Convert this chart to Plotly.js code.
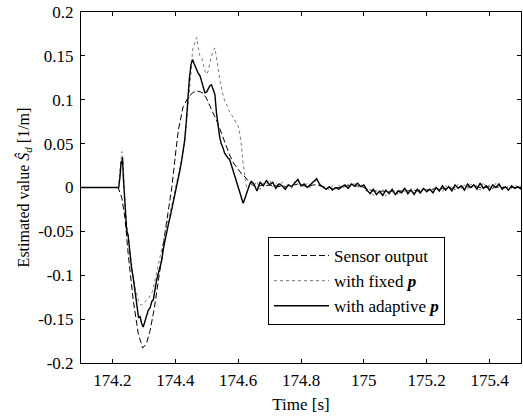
<!DOCTYPE html>
<html>
<head>
<meta charset="utf-8">
<script src="https://cdn.plot.ly/plotly-3.0.1.min.js"></script>
<style>html,body{margin:0;padding:0;background:#fff;}#chart{width:523px;height:419px;}</style>
</head>
<body>
<div id="chart"></div>
<script>
// ---- data ----
var sensorTime = [174.100,174.218,174.230,174.240,174.250,174.266,174.282,174.296,174.308,174.320,174.333,174.346,174.357,174.367,174.378,174.389,174.400,174.410,174.425,174.440,174.455,174.468,174.480,174.490,174.500,174.510,174.520,174.531,174.545,174.560,174.573,174.585,174.600,174.612,174.622,174.635,174.645];
var sensorOutput = [0,0,-0.012,-0.035,-0.075,-0.128,-0.166,-0.183,-0.178,-0.163,-0.138,-0.109,-0.080,-0.052,-0.028,0,0.036,0.066,0.092,0.102,0.108,0.110,0.109,0.107,0.101,0.092,0.085,0.077,0.063,0.048,0.037,0.028,0.020,0.015,0.012,0.006,0.003];

var adaptiveTime = [174.100,174.220,174.224,174.228,174.230,174.232,174.235,174.240,174.245,174.250,174.255,174.261,174.267,174.272,174.278,174.283,174.288,174.293,174.298,174.303,174.308,174.314,174.320,174.325,174.330,174.336,174.341,174.346,174.351,174.357,174.362,174.367,174.373,174.378,174.384,174.389,174.395,174.400,174.404,174.410,174.415,174.420,174.425,174.430,174.435,174.440,174.445,174.450,174.455,174.460,174.466,174.472,174.479,174.485,174.490,174.494,174.500,174.505,174.510,174.515,174.520,174.526,174.531,174.536,174.541,174.546,174.551,174.557,174.562,174.567,174.573,174.578,174.584,174.590,174.595,174.600,174.606,174.611,174.616,174.622,174.627,174.632,174.637,174.642];
var adaptiveP = [0,0,0.012,0.030,0.027,0.034,0.010,-0.020,-0.048,-0.055,-0.075,-0.092,-0.105,-0.117,-0.132,-0.148,-0.147,-0.155,-0.159,-0.152,-0.146,-0.140,-0.137,-0.130,-0.128,-0.112,-0.105,-0.098,-0.090,-0.083,-0.070,-0.060,-0.052,-0.042,-0.033,-0.025,-0.012,-0.004,0.002,0.012,0.020,0.030,0.042,0.054,0.075,0.104,0.125,0.140,0.146,0.141,0.135,0.131,0.127,0.118,0.112,0.108,0.109,0.112,0.116,0.117,0.112,0.106,0.085,0.068,0.058,0.050,0.046,0.039,0.036,0.034,0.032,0.026,0.020,0.013,0.006,0.002,-0.006,-0.012,-0.018,-0.012,-0.006,-0.003,0.004,0.007];

var fixedTime = [174.100,174.220,174.224,174.227,174.230,174.233,174.236,174.240,174.245,174.250,174.256,174.261,174.267,174.272,174.278,174.283,174.288,174.293,174.298,174.304,174.310,174.316,174.322,174.328,174.334,174.340,174.346,174.351,174.357,174.362,174.367,174.372,174.377,174.383,174.389,174.395,174.400,174.405,174.410,174.415,174.420,174.425,174.430,174.435,174.440,174.445,174.450,174.455,174.460,174.465,174.468,174.472,174.478,174.484,174.490,174.495,174.500,174.505,174.510,174.515,174.520,174.526,174.531,174.537,174.542,174.547,174.553,174.558,174.563,174.569,174.574,174.580,174.585,174.590,174.595,174.600,174.605,174.611,174.615,174.619,174.623,174.627,174.632,174.637,174.642];
var fixedP = [0,0,0.020,0.035,0.041,0.035,0.008,-0.015,-0.040,-0.052,-0.075,-0.088,-0.100,-0.115,-0.122,-0.130,-0.133,-0.134,-0.132,-0.130,-0.128,-0.126,-0.122,-0.118,-0.108,-0.098,-0.088,-0.079,-0.068,-0.058,-0.050,-0.043,-0.037,-0.030,-0.020,-0.010,-0.003,0.004,0.012,0.020,0.030,0.040,0.052,0.070,0.092,0.108,0.130,0.157,0.162,0.166,0.171,0.162,0.150,0.148,0.140,0.132,0.129,0.133,0.142,0.150,0.156,0.159,0.150,0.135,0.122,0.112,0.104,0.098,0.095,0.089,0.086,0.082,0.079,0.077,0.074,0.070,0.062,0.047,0.030,0.016,0.008,0.001,-0.002,0.003,0.006];

// settled part, 174.65 ... 175.50 every 0.01 s
var tailTime = [174.65,174.66,174.67,174.68,174.69,174.70,174.71,174.72,174.73,174.74,174.75,174.76,174.77,174.78,174.79,174.80,174.81,174.82,174.83,174.84,174.85,174.86,174.87,174.88,174.89,174.90,174.91,174.92,174.93,174.94,174.95,174.96,174.97,174.98,174.99,175.00,175.01,175.02,175.03,175.04,175.05,175.06,175.07,175.08,175.09,175.10,175.11,175.12,175.13,175.14,175.15,175.16,175.17,175.18,175.19,175.20,175.21,175.22,175.23,175.24,175.25,175.26,175.27,175.28,175.29,175.30,175.31,175.32,175.33,175.34,175.35,175.36,175.37,175.38,175.39,175.40,175.41,175.42,175.43,175.44,175.45,175.46,175.47,175.48,175.49,175.50];
var sensorTail = [0.002,0.001,0.002,0.003,0.002,0.003,0.002,0.002,0.001,0.002,0.001,0.002,0.003,0.003,0.004,0.002,0.002,0.001,0.002,0.003,0.003,0.002,0.001,0.000,0.000,-0.001,0.000,0.000,0.001,0.001,0.002,0.001,0.001,0.002,0.001,0.000,-0.002,-0.003,-0.004,-0.004,-0.005,-0.004,-0.005,-0.005,-0.004,-0.005,-0.004,-0.004,-0.003,-0.004,-0.003,-0.003,-0.004,-0.003,-0.002,-0.003,-0.002,-0.002,-0.001,-0.002,-0.001,-0.001,0.000,-0.001,0.000,0.000,0.001,0.000,0.001,0.000,0.001,0.001,0.000,0.001,0.000,0.001,0.000,0.001,0.000,0.000,0.000,0.000,0.000,0.000,0.000,0.000];
var adaptiveTail = [0.004,-0.004,0.006,0.002,0.008,0.003,0.006,-0.001,0.004,0.002,-0.002,0.003,0.001,0.005,0.009,0.002,0.004,0.000,0.003,0.006,0.010,0.003,0.000,-0.002,0.001,-0.003,0.000,-0.002,0.001,0.003,-0.001,0.004,0.002,0.005,0.001,0.003,-0.003,-0.007,-0.002,-0.008,-0.004,-0.009,-0.003,-0.007,-0.002,-0.008,-0.004,-0.006,-0.001,-0.007,-0.003,-0.008,-0.002,-0.006,-0.001,-0.005,-0.002,-0.006,0.000,-0.004,0.002,-0.003,0.001,-0.004,0.003,-0.001,0.002,-0.003,0.004,0.000,0.003,-0.002,0.005,-0.001,0.002,-0.003,0.003,0.000,0.004,-0.002,0.001,-0.003,0.002,-0.001,0.001,-0.002];
var fixedTail = [0.002,0.007,-0.002,0.005,0.004,0.009,0.001,0.005,0.002,0.006,0.000,0.004,-0.001,0.007,0.010,0.004,0.001,0.005,-0.001,0.004,0.008,0.005,-0.001,0.002,-0.003,0.002,-0.002,0.003,-0.001,0.001,0.004,0.001,0.006,-0.001,0.004,0.000,-0.005,-0.002,-0.009,-0.003,-0.007,-0.002,-0.010,-0.004,-0.006,-0.003,-0.009,-0.002,-0.005,-0.008,-0.001,-0.006,-0.004,-0.007,0.000,-0.004,-0.003,-0.005,0.001,-0.002,-0.005,0.002,-0.002,0.001,-0.003,0.004,-0.001,0.003,-0.002,0.004,0.001,0.002,-0.003,0.006,0.000,0.003,-0.002,0.005,0.001,0.003,-0.002,0.002,-0.001,0.003,0.000,0.002];

var seriesNames = ['Sensor output', 'with fixed <b><i>p</i></b>', 'with adaptive <b><i>p</i></b>'];
var xTickVals = [174.2,174.4,174.6,174.8,175,175.2,175.4];
var xTickText = ['174.2','174.4','174.6','174.8','175','175.2','175.4'];
var yTickVals = [0.2,0.15,0.1,0.05,0,-0.05,-0.1,-0.15,-0.2];
var yTickText = ['0.2','0.15','0.1','0.05','0','-0.05','-0.1','-0.15','-0.2'];

var serif = '"Liberation Serif", serif';

var traces = [
  {x: sensorTime.concat(tailTime), y: sensorOutput.concat(sensorTail), name: seriesNames[0], legendgroup: 'a',
   mode: 'lines', line: {color: '#000', width: 1, dash: '6px,3px'}},
  {x: fixedTime.concat(tailTime), y: fixedP.concat(fixedTail), name: seriesNames[1], legendgroup: 'b',
   mode: 'lines', line: {color: '#777', width: 1, dash: 'dot'}},
  {x: adaptiveTime.concat(tailTime), y: adaptiveP.concat(adaptiveTail), name: seriesNames[2], legendgroup: 'c',
   mode: 'lines', line: {color: '#000', width: 1.4}}
];

var axisCommon = {
  showline: true, linecolor: '#000', linewidth: 1, mirror: 'ticks',
  ticks: 'inside', ticklen: 4, tickcolor: '#000', tickwidth: 1,
  showgrid: false, zeroline: false,
  tickfont: {family: serif, size: 17, color: '#000'}
};

var layout = {
  width: 523, height: 419,
  margin: {l: 81, r: 2, t: 12, b: 56},
  paper_bgcolor: '#fff', plot_bgcolor: '#fff',
  font: {family: serif, color: '#000'},
  showlegend: true,
  xaxis: Object.assign({}, axisCommon, {
    range: [174.1, 175.5], tickmode: 'array', tickvals: xTickVals, ticktext: xTickText,
    ticklabelstandoff: 2,
    title: {text: 'Time [s]', font: {family: serif, size: 17, color: '#000'}, standoff: 8}
  }),
  yaxis: Object.assign({}, axisCommon, {
    range: [-0.2, 0.2], tickmode: 'array', tickvals: yTickVals, ticktext: yTickText,
    ticklabelstandoff: 3,
    title: {text: 'Estimated value <i>Ŝ</i><sub><i>d</i></sub> [1/m]', font: {family: serif, size: 16, color: '#000'}, standoff: 4}
  }),
  legend: {
    x: 0.425, y: 0.359, xanchor: 'left', yanchor: 'top',
    bgcolor: '#fff', bordercolor: '#000', borderwidth: 1,
    font: {family: serif, size: 17, color: '#000'},
    tracegroupgap: 9, traceorder: 'normal', itemwidth: 55
  }
};

Plotly.newPlot('chart', traces, layout, {staticPlot: true, displayModeBar: false});
</script>
</body>
</html>
